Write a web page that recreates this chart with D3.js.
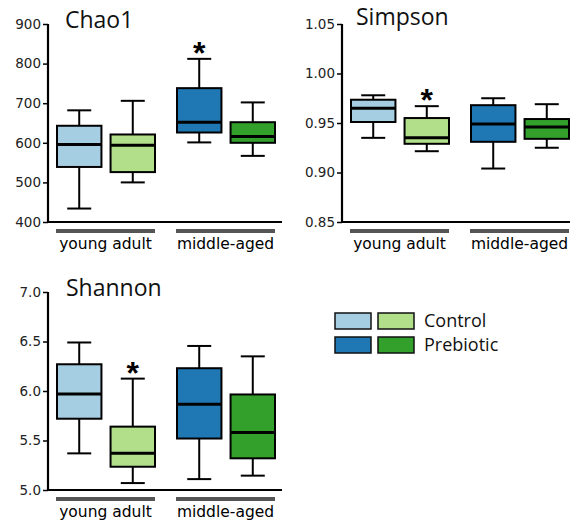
<!DOCTYPE html>
<html>
<head>
<meta charset="utf-8">
<script src="https://cdn.jsdelivr.net/npm/d3@7"></script>
<style>
  body { margin: 0; background: #fff; }
  svg { display: block; }
</style>
</head>
<body>
<div id="chart"></div>
<script>
// groupes et traitements
var groups = ["young adult", "middle-aged"];
var treatments = ["Control", "Prebiotic"];
var colors = {
  "young adult-Control": "#a6cee3",
  "young adult-Prebiotic": "#b2df8a",
  "middle-aged-Control": "#1f78b4",
  "middle-aged-Prebiotic": "#33a02c"
};

// [min, q1, median, q3, max] pour chaque boite, ordre : jeune ctrl, jeune preb, age ctrl, age preb
var chao1 = [
  [434, 539, 596, 643, 682],
  [500, 526, 594, 621, 706],
  [601, 626, 652, 738, 812],
  [567, 600, 616, 652, 702]
];
var simpson = [
  [0.935, 0.951, 0.965, 0.9735, 0.978],
  [0.9215, 0.929, 0.935, 0.955, 0.967],
  [0.904, 0.931, 0.949, 0.968, 0.975],
  [0.925, 0.934, 0.946, 0.954, 0.969]
];
var shannon = [
  [5.37, 5.72, 5.97, 6.27, 6.49],
  [5.07, 5.235, 5.37, 5.64, 6.125],
  [5.11, 5.52, 5.865, 6.23, 6.455],
  [5.145, 5.32, 5.58, 5.965, 6.35]
];

var chao1Ticks = [400, 500, 600, 700, 800, 900];
var simpsonTicks = [0.85, 0.90, 0.95, 1.00, 1.05];
var shannonTicks = [5.0, 5.5, 6.0, 6.5, 7.0];

var width = 572, height = 521;

var svg = d3.select("#chart")
  .append("svg")
  .attr("width", width)
  .attr("height", height);

// dessine un panneau de boites a moustaches
function drawPanel(opt) {
  var g = svg.append("g").attr("transform", "translate(" + opt.x + "," + opt.y + ")");

  var y = d3.scaleLinear().domain(opt.domain).range([198, 0]);
  var xg = d3.scaleBand().domain(groups).range([8, 227]).paddingInner(0.175);
  var xt = d3.scaleBand().domain(treatments).range([1, 99]).paddingInner(0.17);

  // axe y
  var yAxis = d3.axisLeft(y)
    .tickValues(opt.ticks)
    .tickFormat(d3.format(opt.format))
    .tickSize(5)
    .tickPadding(2);
  var ax = g.append("g").call(yAxis);
  ax.select(".domain").remove();
  ax.selectAll("line").attr("stroke", "#000").attr("stroke-width", 1.5);
  ax.selectAll("text")
    .attr("fill", "#222")
    .style("font-family", "DejaVu Sans, Verdana, sans-serif")
    .style("font-size", "13.5px");

  // lignes d'axe
  g.append("path")
    .attr("d", "M0," + y(opt.domain[1]) + "V" + y(opt.domain[0]) + "H" + opt.axisLen)
    .attr("fill", "none")
    .attr("stroke", "#000")
    .attr("stroke-width", 2.2);

  // barres de groupe et etiquettes
  g.selectAll(".gbar")
    .data(groups)
    .join("rect")
    .attr("x", function(d) { return xg(d); })
    .attr("y", 205)
    .attr("width", xg.bandwidth())
    .attr("height", 4)
    .attr("fill", "#555");

  g.selectAll(".glab")
    .data(groups)
    .join("text")
    .attr("x", function(d) { return xg(d) + xg.bandwidth() / 2; })
    .attr("y", 225)
    .attr("text-anchor", "middle")
    .style("font-family", "DejaVu Sans, Verdana, sans-serif")
    .style("font-size", "15.5px")
    .attr("fill", "#000")
    .text(function(d) { return d; });

  // boites
  var items = [];
  groups.forEach(function(gr) {
    treatments.forEach(function(t) {
      items.push({ group: gr, treat: t, v: opt.data[items.length] });
    });
  });

  var bw = xt.bandwidth();
  var box = g.selectAll(".box")
    .data(items)
    .join("g")
    .attr("transform", function(d) { return "translate(" + (xg(d.group) + xt(d.treat)) + ",0)"; });

  // moustaches
  box.append("line")
    .attr("x1", bw / 2).attr("x2", bw / 2)
    .attr("y1", function(d) { return y(d.v[0]); })
    .attr("y2", function(d) { return y(d.v[4]); })
    .attr("stroke", "#000").attr("stroke-width", 2);
  box.selectAll(".cap")
    .data(function(d) { return [d.v[0], d.v[4]]; })
    .join("line")
    .attr("x1", bw / 2 - 12).attr("x2", bw / 2 + 12)
    .attr("y1", function(v) { return y(v); })
    .attr("y2", function(v) { return y(v); })
    .attr("stroke", "#000").attr("stroke-width", 2);

  box.append("rect")
    .attr("x", 0)
    .attr("width", bw)
    .attr("y", function(d) { return y(d.v[3]); })
    .attr("height", function(d) { return y(d.v[1]) - y(d.v[3]); })
    .attr("fill", function(d) { return colors[d.group + "-" + d.treat]; })
    .attr("stroke", "#000")
    .attr("stroke-width", 2);

  box.append("line")
    .attr("x1", 0).attr("x2", bw)
    .attr("y1", function(d) { return y(d.v[2]); })
    .attr("y2", function(d) { return y(d.v[2]); })
    .attr("stroke", "#000").attr("stroke-width", 3);

  // etoile de significativite
  var s = items[opt.star];
  g.append("text")
    .attr("x", xg(s.group) + xt(s.treat) + bw / 2)
    .attr("y", y(s.v[4]) + 5)
    .attr("text-anchor", "middle")
    .style("font-family", "Liberation Sans, Arial, sans-serif")
    .style("font-weight", "bold")
    .style("font-size", "32px")
    .text("*");

  // titre
  svg.append("text")
    .attr("x", opt.x + opt.titleDx)
    .attr("y", opt.titleY)
    .style("font-family", "Open Sans, Noto Sans, sans-serif")
    .style("font-size", "23px")
    .attr("fill", "#111")
    .text(opt.title);
}

drawPanel({ x: 48, y: 24, domain: [400, 900], ticks: chao1Ticks, format: "d", axisLen: 234,
  data: chao1, star: 2, title: "Chao1", titleDx: 17, titleY: 28 });
drawPanel({ x: 342, y: 24, domain: [0.85, 1.05], ticks: simpsonTicks, format: ".2f", axisLen: 228,
  data: simpson, star: 1, title: "Simpson", titleDx: 14, titleY: 25 });
drawPanel({ x: 48, y: 292, domain: [5.0, 7.0], ticks: shannonTicks, format: ".1f", axisLen: 234,
  data: shannon, star: 1, title: "Shannon", titleDx: 18, titleY: 296 });

// legende : une ligne par traitement, couleurs de chaque groupe d'age
var legend = svg.append("g").attr("transform", "translate(335,313)");
var legRows = treatments.map(function(t, i) {
  return { label: t, cols: treatments.map(function(t2) { return colors[groups[i] + "-" + t2]; }), i: i };
});
var lr = legend.selectAll(".lr")
  .data(legRows)
  .join("g")
  .attr("transform", function(d) { return "translate(0," + d.i * 24 + ")"; });
lr.selectAll("rect")
  .data(function(d) { return d.cols; })
  .join("rect")
  .attr("x", function(c, j) { return j * 43; })
  .attr("width", 36)
  .attr("height", 16)
  .attr("fill", function(c) { return c; })
  .attr("stroke", "#111")
  .attr("stroke-width", 1.5);
lr.append("text")
  .attr("x", 89)
  .attr("y", 14)
  .style("font-family", "Open Sans, Noto Sans, sans-serif")
  .style("font-size", "18px")
  .attr("fill", "#111")
  .text(function(d) { return d.label; });
</script>
</body>
</html>
